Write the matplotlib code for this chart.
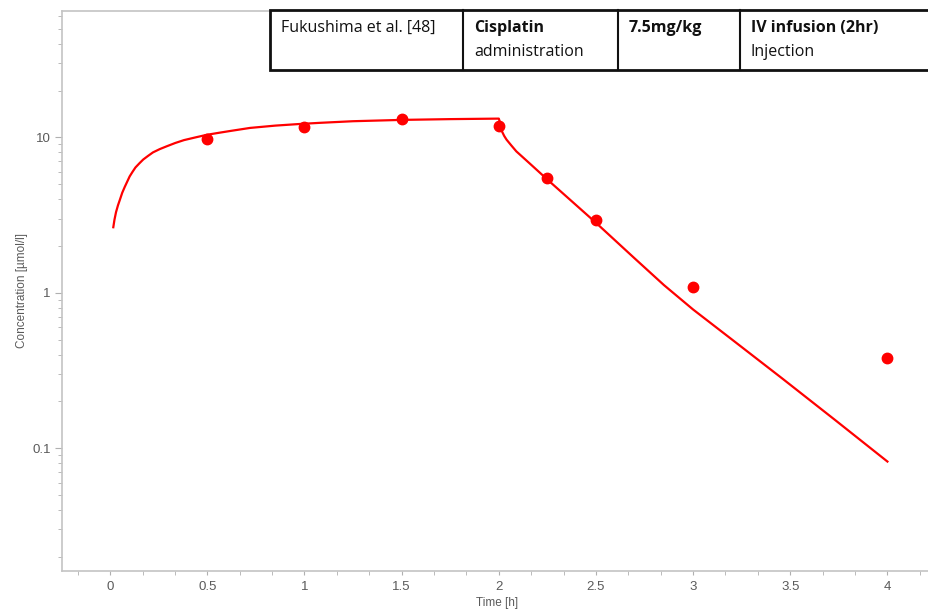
import matplotlib

matplotlib.use("Agg")

import matplotlib.pyplot as plt
from matplotlib.patches import Rectangle
from matplotlib.ticker import FixedLocator, LogLocator, NullFormatter, FuncFormatter

# observed data (Fukushima et al.)
obs_time = [0.5, 1.0, 1.5, 2.0, 2.25, 2.5, 3.0, 4.0]
obs_conc = [9.7, 11.7, 13.2, 11.9, 5.45, 2.96, 1.09, 0.38]

# simulated curve
sim_time = [0.016, 0.022, 0.03, 0.04, 0.05, 0.062, 0.075, 0.088, 0.10, 0.115, 0.13,
            0.15, 0.17, 0.195, 0.22, 0.255, 0.29, 0.335, 0.38, 0.44, 0.50,
            0.56, 0.62, 0.72, 0.85, 0.98, 1.08, 1.25, 1.5, 1.75, 2.0,
            2.006, 2.015, 2.028, 2.04, 2.065, 2.09, 2.17, 2.25, 2.5, 2.7, 2.85, 3.0,
            3.2, 3.46, 3.73, 4.0]
sim_conc = [2.64, 2.95, 3.3, 3.65, 3.97, 4.4, 4.8, 5.2, 5.6, 6.0, 6.4,
            6.8, 7.2, 7.6, 8.0, 8.4, 8.75, 9.2, 9.6, 10.0, 10.4,
            10.7, 11.0, 11.5, 11.9, 12.2, 12.4, 12.7, 12.95, 13.1, 13.2,
            12.5, 11.0, 10.2, 9.66, 8.85, 8.13, 6.6, 5.35, 2.82, 1.66, 1.12, 0.78,
            0.50, 0.28, 0.152, 0.082]

x_ticks = [0, 0.5, 1, 1.5, 2, 2.5, 3, 3.5, 4]
y_ticks = [0.1, 1, 10]

table_cells = [
    ("Fukushima et al. [48]", "", False),
    ("Cisplatin", "administration", True),
    ("7.5mg/kg", "", True),
    ("IV infusion (2hr)", "Injection", True),
]
table_edges = [270, 463, 618, 740, 940]

W, H = 929, 613
fig = plt.figure(figsize=(W / 100, H / 100), dpi=100)
ax = fig.add_axes([62 / W, (H - 571) / H, (W - 62) / W, (571 - 10.5) / H])

ax.plot(sim_time, sim_conc, color="#ff0000", linewidth=1.6, zorder=2)
ax.plot(obs_time, obs_conc, "o", color="#ff0000", markersize=7.5, zorder=3)

ax.set_yscale("log")
ax.set_xlim(-0.248, 4.214)
ax.set_ylim(0.0162, 65.5)

label_font = ["Liberation Sans", "DejaVu Sans"]
grey = "#5a5a5a"
ax.set_xticks(x_ticks)
ax.set_xticklabels([f"{v:g}" for v in x_ticks])
ax.xaxis.set_minor_locator(FixedLocator([i / 6 for i in range(-1, 26)]))
ax.yaxis.set_major_locator(FixedLocator(y_ticks))
ax.yaxis.set_major_formatter(FuncFormatter(lambda v, p: f"{v:g}"))
ax.yaxis.set_minor_locator(LogLocator(base=10, subs=range(2, 10)))
ax.yaxis.set_minor_formatter(NullFormatter())

ax.tick_params(axis="both", which="both", direction="out", color="#b0b0b0",
               labelcolor=grey, labelsize=9.5)
ax.tick_params(axis="y", which="major", length=5, pad=3)
ax.tick_params(axis="y", which="minor", length=3)
ax.tick_params(axis="x", which="both", length=3, pad=4)
for lbl in ax.get_xticklabels() + ax.get_yticklabels():
    lbl.set_family(label_font)

for side in ("left", "bottom", "top"):
    ax.spines[side].set_color("#c4c4c4")
    ax.spines[side].set_linewidth(1.2)
ax.spines["right"].set_visible(False)

fig.text(497 / W, 1 - 603 / H, "Time [h]", ha="center", va="center",
         color=grey, fontsize=8.5, family=label_font)
fig.text(22 / W, 1 - 290 / H, "Concentration [µmol/l]", ha="center", va="center",
         rotation=90, color=grey, fontsize=8.5, family=label_font)

# header table drawn in figure pixels
top, bottom = 10, 70
fig.patches.append(Rectangle((table_edges[0] / W, 1 - bottom / H),
                             (table_edges[-1] - table_edges[0]) / W, (bottom - top) / H,
                             transform=fig.transFigure, facecolor="white",
                             edgecolor="#111111", linewidth=2, zorder=5))
for x in table_edges[1:-1]:
    fig.add_artist(plt.Line2D([x / W, x / W], [1 - top / H, 1 - bottom / H],
                              transform=fig.transFigure, color="#111111",
                              linewidth=1.5, zorder=6))
for (first, second, bold), x in zip(table_cells, table_edges):
    fig.text((x + 11) / W, 1 - 28 / H, first, ha="left", va="center", fontsize=11.5,
             fontweight="bold" if bold else "normal", family="Open Sans",
             color="#111111", zorder=7)
    if second:
        fig.text((x + 11) / W, 1 - 52 / H, second, ha="left", va="center",
                 fontsize=11.5, family="Open Sans", color="#111111", zorder=7)

fig.savefig("out.png", dpi=100)
